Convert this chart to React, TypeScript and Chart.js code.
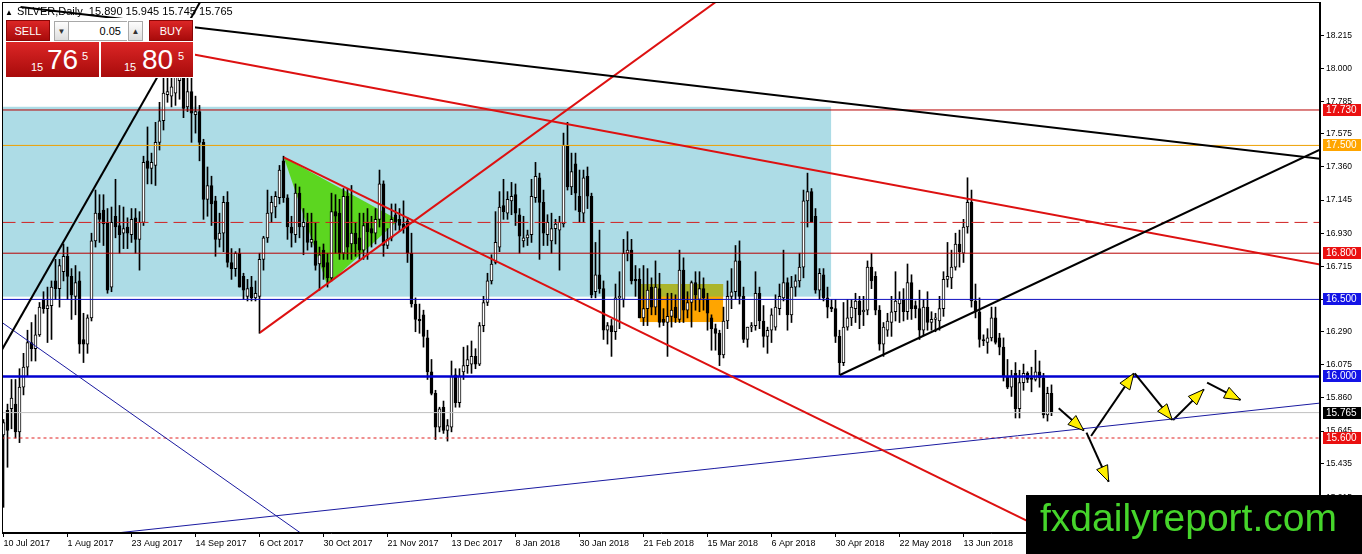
import { useEffect, useRef } from "react";
import { Chart, registerables } from "chart.js";

Chart.register(...registerables);

const FONT = "'Liberation Sans', Arial, sans-serif";
Chart.defaults.font.family = FONT;

// daily bars, bar 0 = 10 Jul 2017
const opens = [
  15.62, 15.78, 15.79, 15.82, 15.64, 15.93, 16.06, 16.22, 16.18, 16.27,
  16.50, 16.44, 16.46, 16.62, 16.57, 16.68, 16.78, 16.65, 16.52, 16.62,
  16.24, 16.21, 16.38, 16.88, 17.06, 17.08, 17.00, 16.58, 17.04, 16.98,
  16.93, 16.97, 16.92, 17.03, 16.89, 17.00, 17.40, 17.35, 17.37, 17.52,
  17.66, 17.83, 17.82, 17.84, 17.92, 17.95, 17.75, 17.85, 17.70, 17.72,
  17.52, 17.15, 17.24, 17.14, 16.89, 16.93, 17.13, 16.74, 16.70, 16.80,
  16.65, 16.52, 16.58, 16.51, 16.52, 16.76, 16.90, 17.06, 17.10, 17.16,
  17.40, 17.16, 16.97, 16.92, 17.19, 16.97, 17.00, 16.87, 16.88, 16.73,
  16.82, 16.74, 16.64, 17.07, 17.06, 16.80, 17.17, 16.86, 16.93, 16.90,
  16.82, 17.00, 16.96, 16.93, 17.02, 17.25, 16.85, 16.90, 17.05, 17.02,
  16.99, 17.01, 16.80, 16.47, 16.37, 16.40, 16.25, 16.03, 15.89, 15.67,
  15.80, 15.65, 15.67, 16.01, 15.83, 16.03, 16.07, 16.08, 16.13, 16.08,
  16.33, 16.48, 16.62, 16.74, 16.84, 17.11, 17.06, 17.14, 17.18, 17.05,
  16.88, 16.90, 16.92, 17.16, 17.29, 17.13, 16.92, 16.88, 16.96, 16.95,
  16.99, 17.50, 17.23, 17.38, 17.17, 17.06, 17.30, 17.17, 16.55, 16.66,
  16.57, 16.30, 16.33, 16.29, 16.51, 16.50, 16.80, 16.82, 16.63, 16.63,
  16.38, 16.44, 16.58, 16.45, 16.57, 16.37, 16.35, 16.39, 16.45, 16.37,
  16.69, 16.43, 16.48, 16.61, 16.50, 16.57, 16.50, 16.38, 16.31, 16.28,
  16.14, 16.36, 16.52, 16.55, 16.75, 16.52, 16.24, 16.32, 16.33, 16.54,
  16.36, 16.26, 16.30, 16.32, 16.44, 16.51, 16.61, 16.40, 16.58, 16.62,
  16.71, 17.14, 17.20, 17.04, 16.56, 16.66, 16.51, 16.45, 16.44, 16.26,
  16.09, 16.32, 16.38, 16.44, 16.49, 16.42, 16.43, 16.71, 16.65, 16.43,
  16.21, 16.30, 16.35, 16.42, 16.47, 16.50, 16.42, 16.61, 16.46, 16.44,
  16.30, 16.45, 16.35, 16.37, 16.36, 16.44, 16.63, 16.64, 16.71, 16.86,
  16.80, 16.97, 17.13, 16.49, 16.42, 16.24, 16.22, 16.25, 16.38, 16.25,
  16.19, 16.00, 15.93, 16.02, 15.79, 15.96, 16.02, 15.99, 15.98, 16.03,
  15.99, 15.75, 15.89,
];
const highs = [
  15.72, 15.82, 15.98, 15.98, 16.05, 16.15, 16.30, 16.35, 16.40, 16.48,
  16.55, 16.58, 16.62, 16.76, 16.76, 16.86, 16.84, 16.70, 16.72, 16.68,
  16.41, 16.40, 16.93, 17.21, 17.18, 17.18, 17.09, 17.10, 17.28, 17.11,
  17.10, 17.03, 17.09, 17.09, 17.07, 17.43, 17.62, 17.45, 17.65, 17.78,
  17.95, 18.00, 18.05, 18.10, 18.20, 18.15, 17.98, 18.00, 17.82, 17.76,
  17.54, 17.36, 17.30, 17.17, 17.06, 17.17, 17.20, 16.83, 16.81, 16.83,
  16.67, 16.63, 16.65, 16.62, 16.80, 16.91, 17.21, 17.17, 17.20, 17.37,
  17.43, 17.18, 17.04, 17.25, 17.23, 17.09, 17.06, 17.06, 17.00, 16.84,
  16.86, 16.80, 17.19, 17.18, 17.15, 17.22, 17.22, 17.24, 17.00, 17.06,
  17.06, 17.09, 17.04, 17.09, 17.34, 17.27, 16.96, 17.12, 17.12, 17.09,
  17.14, 17.03, 16.93, 16.51, 16.47, 16.43, 16.30, 16.11, 15.91, 15.80,
  15.84, 15.72, 16.10, 16.05, 16.05, 16.19, 16.20, 16.23, 16.18, 16.35,
  16.52, 16.67, 16.79, 17.07, 17.20, 17.28, 17.20, 17.26, 17.25, 17.09,
  17.04, 16.95, 17.28, 17.39, 17.32, 17.21, 17.05, 17.06, 17.02, 17.04,
  17.58, 17.65, 17.45, 17.45, 17.34, 17.34, 17.36, 17.19, 16.87, 16.95,
  16.62, 16.35, 16.37, 16.60, 16.68, 16.89, 16.94, 16.89, 16.72, 16.70,
  16.72, 16.70, 16.64, 16.75, 16.67, 16.44, 16.54, 16.54, 16.53, 16.82,
  16.77, 16.55, 16.62, 16.68, 16.68, 16.64, 16.54, 16.40, 16.34, 16.30,
  16.45, 16.62, 16.70, 16.85, 16.88, 16.58, 16.32, 16.35, 16.68, 16.58,
  16.46, 16.32, 16.44, 16.53, 16.60, 16.82, 16.64, 16.65, 16.66, 16.80,
  17.21, 17.32, 17.22, 17.09, 16.70, 16.70, 16.58, 16.50, 16.50, 16.30,
  16.48, 16.50, 16.50, 16.54, 16.52, 16.52, 16.75, 16.80, 16.68, 16.46,
  16.35, 16.41, 16.52, 16.68, 16.55, 16.57, 16.73, 16.66, 16.49, 16.56,
  16.50, 16.55, 16.42, 16.41, 16.52, 16.68, 16.87, 16.82, 16.93, 16.95,
  17.02, 17.29, 17.21, 16.60, 16.51, 16.27, 16.31, 16.45, 16.45, 16.28,
  16.25, 16.11, 16.04, 16.09, 16.04, 16.08, 16.03, 16.06, 16.17, 16.10,
  16.02, 15.93, 15.945,
];
const lows = [
  15.15, 15.41, 15.66, 15.60, 15.57, 15.88, 16.00, 16.10, 16.10, 16.26,
  16.41, 16.22, 16.24, 16.50, 16.45, 16.62, 16.50, 16.37, 16.40, 16.15,
  16.09, 16.15, 16.36, 16.84, 16.87, 16.85, 16.54, 16.55, 16.90, 16.80,
  16.83, 16.83, 16.87, 16.80, 16.69, 16.98, 17.25, 17.25, 17.24, 17.47,
  17.60, 17.78, 17.75, 17.76, 17.80, 17.68, 17.72, 17.52, 17.58, 17.40,
  17.02, 17.04, 16.98, 16.78, 16.84, 16.81, 16.71, 16.63, 16.65, 16.58,
  16.50, 16.49, 16.49, 16.49, 16.28, 16.69, 16.87, 17.00, 17.03, 17.12,
  17.13, 16.89, 16.84, 16.87, 16.90, 16.79, 16.82, 16.84, 16.69, 16.56,
  16.63, 16.58, 16.62, 16.80, 16.76, 16.76, 16.76, 16.76, 16.78, 16.76,
  16.76, 16.76, 16.84, 16.86, 16.97, 16.78, 16.83, 16.88, 16.95, 16.94,
  16.93, 16.74, 16.45, 16.29, 16.28, 16.19, 15.98, 15.88, 15.59, 15.64,
  15.63, 15.58, 15.64, 15.80, 15.80, 15.98, 16.02, 16.02, 16.05, 16.07,
  16.29, 16.46, 16.60, 16.73, 16.81, 17.02, 17.02, 17.05, 16.98, 16.80,
  16.84, 16.85, 16.87, 17.13, 16.76, 16.85, 16.85, 16.80, 16.86, 16.69,
  16.97, 17.21, 17.18, 17.08, 17.00, 17.00, 17.09, 16.51, 16.51, 16.54,
  16.24, 16.21, 16.13, 16.24, 16.31, 16.45, 16.75, 16.60, 16.52, 16.38,
  16.33, 16.33, 16.40, 16.40, 16.32, 16.33, 16.13, 16.32, 16.35, 16.35,
  16.35, 16.38, 16.32, 16.43, 16.42, 16.43, 16.30, 16.17, 16.17, 16.07,
  16.12, 16.31, 16.44, 16.50, 16.47, 16.22, 16.19, 16.29, 16.30, 16.31,
  16.19, 16.15, 16.22, 16.30, 16.40, 16.49, 16.30, 16.35, 16.52, 16.58,
  16.64, 16.97, 17.00, 16.54, 16.50, 16.49, 16.38, 16.42, 16.22, 16.01,
  16.07, 16.30, 16.33, 16.35, 16.31, 16.33, 16.40, 16.57, 16.40, 16.17,
  16.13, 16.26, 16.26, 16.36, 16.35, 16.36, 16.37, 16.37, 16.38, 16.24,
  16.27, 16.30, 16.30, 16.29, 16.30, 16.39, 16.58, 16.57, 16.69, 16.71,
  16.74, 16.93, 16.45, 16.38, 16.19, 16.20, 16.15, 16.23, 16.21, 16.14,
  15.97, 15.92, 15.87, 15.73, 15.73, 15.91, 15.96, 15.90, 15.97, 15.93,
  15.73, 15.71, 15.745,
];
const closes = [
  15.70, 15.65, 15.86, 15.64, 15.93, 16.06, 16.22, 16.18, 16.27, 16.45,
  16.44, 16.46, 16.58, 16.57, 16.72, 16.78, 16.65, 16.53, 16.61, 16.21,
  16.21, 16.38, 16.88, 17.06, 17.02, 16.99, 16.56, 17.00, 16.97, 16.92,
  16.96, 16.93, 17.02, 16.89, 17.00, 17.39, 17.35, 17.39, 17.52, 17.66,
  17.84, 17.85, 17.88, 17.96, 18.05, 17.74, 17.85, 17.71, 17.72, 17.52,
  17.15, 17.24, 17.12, 16.89, 16.93, 17.13, 16.74, 16.70, 16.80, 16.58,
  16.56, 16.57, 16.51, 16.54, 16.76, 16.90, 17.06, 17.13, 17.17, 17.34,
  17.16, 16.97, 16.93, 17.19, 16.97, 17.00, 16.87, 16.89, 16.72, 16.79,
  16.71, 16.64, 17.07, 17.04, 16.80, 17.17, 16.84, 16.93, 16.86, 16.82,
  16.98, 16.94, 16.93, 17.02, 17.25, 16.85, 16.89, 17.02, 17.00, 16.98,
  16.96, 16.80, 16.47, 16.37, 16.36, 16.26, 16.03, 15.89, 15.67, 15.79,
  15.65, 15.68, 16.00, 15.83, 16.00, 16.07, 16.11, 16.13, 16.08, 16.33,
  16.48, 16.62, 16.73, 16.87, 17.10, 17.07, 17.15, 17.17, 17.06, 16.91,
  16.90, 16.92, 17.17, 17.30, 17.13, 16.93, 17.00, 16.96, 16.99, 17.00,
  17.50, 17.23, 17.33, 17.19, 17.07, 17.29, 17.17, 16.53, 16.66, 16.57,
  16.30, 16.33, 16.29, 16.51, 16.52, 16.80, 16.82, 16.62, 16.62, 16.38,
  16.44, 16.56, 16.45, 16.58, 16.35, 16.35, 16.39, 16.43, 16.38, 16.69,
  16.43, 16.48, 16.61, 16.53, 16.57, 16.51, 16.41, 16.31, 16.28, 16.14,
  16.36, 16.52, 16.55, 16.75, 16.52, 16.24, 16.32, 16.33, 16.54, 16.36,
  16.26, 16.30, 16.40, 16.45, 16.52, 16.61, 16.40, 16.58, 16.62, 16.71,
  17.14, 17.20, 17.00, 16.56, 16.67, 16.51, 16.45, 16.44, 16.26, 16.09,
  16.32, 16.38, 16.45, 16.49, 16.40, 16.43, 16.71, 16.62, 16.43, 16.21,
  16.32, 16.36, 16.42, 16.49, 16.50, 16.42, 16.61, 16.44, 16.44, 16.30,
  16.45, 16.35, 16.37, 16.38, 16.44, 16.63, 16.65, 16.71, 16.86, 16.81,
  16.97, 17.13, 16.49, 16.42, 16.24, 16.23, 16.25, 16.38, 16.22, 16.19,
  16.00, 15.93, 16.00, 15.79, 15.96, 16.02, 15.98, 15.98, 16.03, 15.99,
  15.75, 15.89, 15.765,
];

const dateLabels = [
  "10 Jul 2017", "1 Aug 2017", "23 Aug 2017", "14 Sep 2017", "6 Oct 2017", "30 Oct 2017",
  "21 Nov 2017", "13 Dec 2017", "8 Jan 2018", "30 Jan 2018", "21 Feb 2018", "15 Mar 2018",
  "6 Apr 2018", "30 Apr 2018", "22 May 2018", "13 Jun 2018",
];
const dateBars = [0, 16, 32, 48, 64, 80, 96, 112, 128, 144, 160, 176, 192, 208, 224, 240];
const priceTicks = [
  15.215, 15.435, 15.645, 15.86, 16.075, 16.29, 16.5, 16.715,
  16.93, 17.145, 17.36, 17.575, 17.785, 18.0, 18.215,
];

// horizontal levels
const levelPrices = [17.73, 17.5, 17.0, 16.8, 16.5, 16.0, 15.765, 15.6];
// trend lines as [bar1, price1, bar2, price2]
const trendLines = [
  [-2, 16.1, 50, 18.47],
  [4.25, 18.399, 331, 17.407],
  [209.1, 16.009, 331, 17.496],
  [47.25, 18.092, 331, 16.718],
  [70.08, 17.423, 274.25, 14.829],
  [64.1, 16.284, 181.75, 18.501],
  [-2, 16.38, 76.75, 14.938],
  [24.25, 14.972, 331, 15.832],
];
// projected path arrows [bar1, price1, bar2, price2]
const arrowPaths = [
  [263.8, 15.793, 270.1, 15.648],
  [270.75, 15.635, 276.3, 15.316],
  [271.9, 15.613, 282.6, 16.02],
  [282.8, 16.02, 292.2, 15.717],
  [292.4, 15.717, 300.1, 15.916],
  [300.9, 15.959, 309.25, 15.847],
];
const zoneBox = [-2, 17.751, 206.9, 16.518];
const orderBox = [159.1, 16.6, 179.9, 16.353];
const pennant = [
  [70.08, 17.423],
  [80.9, 16.594],
  [98.75, 17.016],
];
const bidPrice = 15.765;
const askPrice = 15.805;

const levelStyles = [
  { color: "#b80000", width: 1, dash: [], tag: "#ea1010" },
  { color: "#eea000", width: 1, dash: [], tag: "#ffa500" },
  { color: "#d02020", width: 1, dash: [13, 6], tag: null },
  { color: "#b80000", width: 1, dash: [], tag: "#ea1010" },
  { color: "#1010c0", width: 1, dash: [], tag: "#1414e6" },
  { color: "#0000d0", width: 2.5, dash: [], tag: "#1414e6" },
  { color: "#c0c0c0", width: 1, dash: [], tag: "#000000" },
  { color: "#e02020", width: 1, dash: [3, 3], tag: "#ea1010" },
];
const trendStyles = [
  { color: "#000000", width: 2 },
  { color: "#000000", width: 2 },
  { color: "#000000", width: 2 },
  { color: "#dd1111", width: 2 },
  { color: "#dd1111", width: 2 },
  { color: "#dd1111", width: 2 },
  { color: "#1a1aa0", width: 1 },
  { color: "#1a1aa0", width: 1 },
];

const priceParts = (p: number) => {
  const s = p.toFixed(3);
  return [s.slice(0, 2), s.slice(3, 5), s.slice(5)];
};

const overlayPlugin = {
  id: "overlay",
  beforeDatasetsDraw(chart: any) {
    const { ctx, chartArea: a } = chart;
    const px = (i: number) => chart.scales.x.getPixelForValue(i);
    const py = (p: number) => chart.scales.y.getPixelForValue(p);
    ctx.save();
    ctx.beginPath();
    ctx.rect(a.left, a.top, a.right - a.left, a.bottom - a.top);
    ctx.clip();
    const box = (b: number[], color: string) => {
      const x1 = px(b[0]), x2 = px(b[2]), y1 = py(b[1]), y2 = py(b[3]);
      ctx.fillStyle = color;
      ctx.fillRect(Math.min(x1, x2), Math.min(y1, y2), Math.abs(x2 - x1), Math.abs(y2 - y1));
    };
    box(zoneBox, "#addce6");
    box(orderBox, "#ffa500");
    // part of the order box inside the zone
    box([orderBox[0], Math.min(orderBox[1], zoneBox[1]), orderBox[2], Math.max(orderBox[3], zoneBox[3])], "#abb52c");
    ctx.beginPath();
    pennant.forEach(([i, p], k) => (k ? ctx.lineTo(px(i), py(p)) : ctx.moveTo(px(i), py(p))));
    ctx.closePath();
    ctx.fillStyle = "#5cd620";
    ctx.fill();
    ctx.restore();
  },
  afterDatasetsDraw(chart: any) {
    const { ctx, chartArea: a } = chart;
    const px = (i: number) => chart.scales.x.getPixelForValue(i);
    const py = (p: number) => chart.scales.y.getPixelForValue(p);
    ctx.save();
    // arrow heads
    arrowPaths.forEach(([i1, p1, i2, p2]) => {
      const x1 = px(i1), y1 = py(p1), x2 = px(i2), y2 = py(p2);
      const ang = Math.atan2(y2 - y1, x2 - x1);
      const len = 16, half = 6;
      const bx = x2 - len * Math.cos(ang), by = y2 - len * Math.sin(ang);
      ctx.beginPath();
      ctx.moveTo(x2, y2);
      ctx.lineTo(bx + half * Math.sin(ang), by - half * Math.cos(ang));
      ctx.lineTo(bx - half * Math.sin(ang), by + half * Math.cos(ang));
      ctx.closePath();
      ctx.fillStyle = "#ffee00";
      ctx.fill();
      ctx.strokeStyle = "#000";
      ctx.lineWidth = 1;
      ctx.stroke();
    });
    // frame
    ctx.strokeStyle = "#000";
    ctx.lineWidth = 1;
    ctx.strokeRect(a.left + 0.5, a.top + 0.5, a.right - a.left - 1, a.bottom - a.top - 1);
    // price tags on the axis
    ctx.font = "10px " + FONT;
    ctx.textBaseline = "middle";
    levelPrices.forEach((p, k) => {
      const st = levelStyles[k];
      if (!st.tag) return;
      const y = Math.round(py(p));
      ctx.fillStyle = st.tag;
      ctx.fillRect(a.right + 3, y - 6, 38, 12);
      ctx.fillStyle = "#fff";
      ctx.fillText(p.toFixed(3), a.right + 6, y + 0.5);
    });
    ctx.restore();
  },
  afterDraw(chart: any) {
    const { ctx } = chart;
    ctx.save();
    ctx.fillStyle = "#000";
    ctx.fillRect(1026, 495, 336, 59);
    ctx.fillStyle = "#46d52b";
    ctx.font = "39px " + FONT;
    ctx.textBaseline = "alphabetic";
    ctx.fillText("fxdailyreport.com", 1040, 531);
    ctx.restore();
  },
};

const redFill = "linear-gradient(#dc2626, #a80b0b)";

export default function App() {
  const canvasRef = useRef<HTMLCanvasElement>(null);

  useEffect(() => {
    if (!canvasRef.current) return;
    const bars = opens.map((_, i) => i);
    const wickData = bars.map((i) => ({ x: i, y: [lows[i], highs[i]] }));
    const bodyData = bars.map((i) => {
      const lo = Math.min(opens[i], closes[i]);
      const hi = Math.max(opens[i], closes[i]);
      return { x: i, y: hi - lo < 0.006 ? [lo - 0.003, lo + 0.003] : [lo, hi] };
    });
    const bodyColors = bars.map((i) => (closes[i] >= opens[i] ? "#ffffff" : "#000000"));

    const levelSets = levelPrices.map((p, k) => ({
      type: "line" as const,
      data: [{ x: -5, y: p }, { x: 340, y: p }],
      borderColor: levelStyles[k].color,
      borderWidth: levelStyles[k].width,
      borderDash: levelStyles[k].dash,
      pointRadius: 0,
      order: 1,
    }));
    const trendSets = trendLines.map(([i1, p1, i2, p2], k) => ({
      type: "line" as const,
      data: [{ x: i1, y: p1 }, { x: i2, y: p2 }],
      borderColor: trendStyles[k].color,
      borderWidth: trendStyles[k].width,
      pointRadius: 0,
      order: 0,
    }));
    const arrowSets = arrowPaths.map(([i1, p1, i2, p2]) => ({
      type: "line" as const,
      data: [{ x: i1, y: p1 }, { x: i2, y: p2 }],
      borderColor: "#000",
      borderWidth: 2,
      pointRadius: 0,
      order: 0,
    }));

    const chart = new Chart(canvasRef.current, {
      type: "bar",
      data: {
        datasets: [
          {
            type: "bar",
            data: wickData as any,
            backgroundColor: "#000",
            borderWidth: 0,
            barThickness: 1,
            grouped: false,
            order: 3,
          },
          {
            type: "bar",
            data: bodyData as any,
            backgroundColor: bodyColors,
            borderColor: "#000",
            borderWidth: 1,
            borderSkipped: false,
            barThickness: 3,
            grouped: false,
            order: 2,
          },
          ...levelSets,
          ...trendSets,
          ...arrowSets,
        ] as any,
      },
      options: {
        animation: false,
        responsive: false,
        events: [],
        layout: { padding: { left: 2, top: 2, right: 0, bottom: 0 } },
        plugins: { legend: { display: false }, tooltip: { enabled: false } },
        scales: {
          x: {
            type: "linear",
            min: -0.375,
            max: 329.125,
            offset: false,
            afterFit: (s: any) => {
              s.height = 21;
              s.paddingLeft = 0;
              s.paddingRight = 0;
            },
            afterBuildTicks: (s: any) => {
              s.ticks = dateBars.map((v) => ({ value: v }));
            },
            grid: { drawOnChartArea: false, tickLength: 4, color: "#000", offset: false },
            border: { display: true, color: "#000" },
            ticks: {
              autoSkip: false,
              maxRotation: 0,
              align: "start",
              padding: 1,
              color: "#000",
              font: { size: 9 },
              callback: (_v: any, idx: number) => dateLabels[idx],
            },
          },
          y: {
            type: "linear",
            position: "right",
            min: 14.9832,
            max: 18.4313,
            afterFit: (s: any) => {
              s.width = 42;
              s.paddingTop = 0;
              s.paddingBottom = 0;
            },
            afterBuildTicks: (s: any) => {
              s.ticks = priceTicks.map((v) => ({ value: v }));
            },
            grid: { drawOnChartArea: false, tickLength: 4, color: "#000" },
            border: { display: true, color: "#000" },
            ticks: {
              autoSkip: false,
              padding: 2,
              color: "#000",
              font: { size: 8.5 },
              callback: (v: any) => Number(v).toFixed(3),
            },
          },
        },
      } as any,
      plugins: [overlayPlugin],
    });

    return () => chart.destroy();
  }, []);

  const last = closes.length - 1;
  const bid = priceParts(bidPrice);
  const ask = priceParts(askPrice);
  const abs = (left: number, top: number, extra: any = {}) => ({ position: "absolute" as const, left, top, ...extra });
  const button = { color: "#fff", fontSize: 11, display: "flex", alignItems: "center", justifyContent: "center", background: redFill, border: "1px solid #8a0606", boxSizing: "border-box" as const };
  const stepper = { fontSize: 8, color: "#333", display: "flex", alignItems: "center", justifyContent: "center", background: "linear-gradient(#fdfdfd, #dedede)", border: "1px solid #a8a8a8", boxSizing: "border-box" as const };

  return (
    <div style={{ position: "absolute", left: 0, top: 0, width: 1362, height: 554, background: "#fff", overflow: "hidden", fontFamily: FONT }}>
      <canvas ref={canvasRef} width={1362} height={554} style={{ display: "block" }} />

      <div style={abs(5, 4, { fontSize: 11, lineHeight: "14px", color: "#000", whiteSpace: "nowrap" })}>
        <span style={{ fontSize: 8, marginRight: 4 }}>▲</span>
        SILVER,Daily&nbsp; {opens[last].toFixed(3)} {highs[last].toFixed(3)} {lows[last].toFixed(3)} {closes[last].toFixed(3)}
      </div>

      <div style={abs(4, 18, { width: 191, height: 60, background: "#fff" })} />
      <div style={abs(6, 20, { ...button, width: 44, height: 21 })}>SELL</div>
      <div style={abs(54, 21, { ...stepper, width: 15, height: 20 })}>▼</div>
      <div style={abs(69, 21, { width: 58, height: 20, border: "1px solid #a8a8a8", borderLeft: "none", borderRight: "none", boxSizing: "border-box", fontSize: 11, display: "flex", alignItems: "center", justifyContent: "flex-end", paddingRight: 6, background: "#fff" })}>0.05</div>
      <div style={abs(128, 21, { ...stepper, width: 15, height: 20 })}>▲</div>
      <div style={abs(149, 20, { ...button, width: 44, height: 21 })}>BUY</div>

      <div style={abs(6, 42, { width: 93, height: 35, background: redFill })} />
      <div style={abs(101, 42, { width: 92, height: 35, background: redFill })} />
      <span style={abs(31, 61.7, { color: "#fff", fontSize: 11, lineHeight: "11px" })}>{bid[0]}</span>
      <span style={abs(47, 46.3, { color: "#fff", fontSize: 28, lineHeight: "28px" })}>{bid[1]}</span>
      <span style={abs(82, 50.6, { color: "#fff", fontSize: 11, lineHeight: "11px" })}>{bid[2]}</span>
      <span style={abs(124, 61.7, { color: "#fff", fontSize: 11, lineHeight: "11px" })}>{ask[0]}</span>
      <span style={abs(142, 46.3, { color: "#fff", fontSize: 28, lineHeight: "28px" })}>{ask[1]}</span>
      <span style={abs(178, 50.6, { color: "#fff", fontSize: 11, lineHeight: "11px" })}>{ask[2]}</span>
    </div>
  );
}
